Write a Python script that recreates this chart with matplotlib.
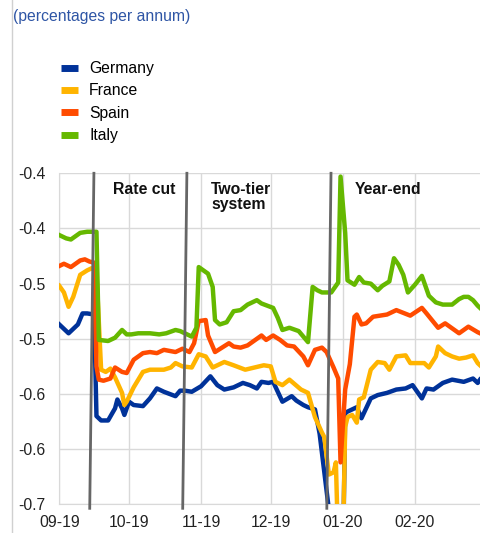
import pandas as pd
import matplotlib
matplotlib.use('Agg')
import matplotlib.pyplot as plt
import matplotlib.dates as mdates
from matplotlib.lines import Line2D

plt.rcParams['font.family'] = ['Liberation Sans', 'DejaVu Sans']

# Data (percentages per annum)
germany_dates = ['2019-09-01', '2019-09-05', '2019-09-09', '2019-09-11', '2019-09-13', '2019-09-16',
                 '2019-09-17', '2019-09-19', '2019-09-22', '2019-09-25', '2019-09-26', '2019-09-28',
                 '2019-09-29', '2019-10-01', '2019-10-03', '2019-10-07', '2019-10-10', '2019-10-13',
                 '2019-10-16', '2019-10-21', '2019-10-23', '2019-10-25', '2019-10-28', '2019-11-01',
                 '2019-11-05', '2019-11-08', '2019-11-11', '2019-11-15', '2019-11-19', '2019-11-22',
                 '2019-11-25', '2019-11-27', '2019-11-30', '2019-12-02', '2019-12-04', '2019-12-06',
                 '2019-12-10', '2019-12-12', '2019-12-15', '2019-12-17', '2019-12-20', '2019-12-22',
                 '2019-12-26', '2019-12-28', '2019-12-31', '2020-01-01', '2020-01-02', '2020-01-03',
                 '2020-01-07', '2020-01-09', '2020-01-13', '2020-01-16', '2020-01-20', '2020-01-24',
                 '2020-01-28', '2020-01-31', '2020-02-04', '2020-02-06', '2020-02-09', '2020-02-13',
                 '2020-02-17', '2020-02-22', '2020-02-26', '2020-02-28', '2020-02-29']
germany = [-0.537, -0.545, -0.537, -0.527, -0.527, -0.528,
           -0.620, -0.624, -0.624, -0.613, -0.605, -0.613,
           -0.619, -0.607, -0.610, -0.611, -0.604, -0.595,
           -0.598, -0.602, -0.597, -0.597, -0.598, -0.593,
           -0.584, -0.592, -0.596, -0.594, -0.590, -0.592,
           -0.595, -0.589, -0.590, -0.589, -0.598, -0.607,
           -0.602, -0.606, -0.610, -0.612, -0.614, -0.636,
           -0.705, -0.760, -0.760, -0.760, -0.617, -0.616,
           -0.612, -0.622, -0.604, -0.601, -0.599, -0.596,
           -0.595, -0.592, -0.604, -0.595, -0.596, -0.590,
           -0.587, -0.589, -0.586, -0.590, -0.587]

france_dates = ['2019-09-01', '2019-09-03', '2019-09-05', '2019-09-07', '2019-09-10', '2019-09-13',
                '2019-09-15', '2019-09-17', '2019-09-19', '2019-09-21', '2019-09-23', '2019-09-25',
                '2019-09-28', '2019-09-29', '2019-09-30', '2019-10-03', '2019-10-07', '2019-10-10',
                '2019-10-13', '2019-10-16', '2019-10-19', '2019-10-21', '2019-10-24', '2019-10-28',
                '2019-10-31', '2019-11-03', '2019-11-06', '2019-11-11', '2019-11-15', '2019-11-20',
                '2019-11-24', '2019-11-28', '2019-12-01', '2019-12-03', '2019-12-06', '2019-12-09',
                '2019-12-14', '2019-12-17', '2019-12-20', '2019-12-23', '2019-12-24', '2019-12-26',
                '2019-12-28', '2019-12-29', '2019-12-30', '2019-12-31', '2020-01-01', '2020-01-02',
                '2020-01-03', '2020-01-05', '2020-01-07', '2020-01-08', '2020-01-10', '2020-01-13',
                '2020-01-16', '2020-01-19', '2020-01-21', '2020-01-24', '2020-01-28', '2020-01-30',
                '2020-02-02', '2020-02-05', '2020-02-07', '2020-02-10', '2020-02-11', '2020-02-14',
                '2020-02-17', '2020-02-20', '2020-02-23', '2020-02-26', '2020-02-28', '2020-02-29']
france = [-0.502, -0.508, -0.521, -0.512, -0.492, -0.488,
          -0.486, -0.490, -0.578, -0.580, -0.577, -0.585,
          -0.599, -0.610, -0.607, -0.594, -0.580, -0.578,
          -0.578, -0.578, -0.576, -0.572, -0.575, -0.576,
          -0.564, -0.566, -0.576, -0.571, -0.574, -0.578,
          -0.576, -0.574, -0.575, -0.589, -0.592, -0.587,
          -0.596, -0.599, -0.621, -0.635, -0.639, -0.673,
          -0.671, -0.662, -0.740, -0.740, -0.740, -0.630,
          -0.621, -0.619, -0.626, -0.605, -0.603, -0.578,
          -0.571, -0.572, -0.578, -0.566, -0.565, -0.572,
          -0.572, -0.572, -0.576, -0.566, -0.557, -0.563,
          -0.566, -0.568, -0.567, -0.565, -0.572, -0.574]

spain_dates = ['2019-09-01', '2019-09-03', '2019-09-06', '2019-09-10', '2019-09-12', '2019-09-14',
               '2019-09-16', '2019-09-17', '2019-09-18', '2019-09-20', '2019-09-23', '2019-09-25',
               '2019-09-28', '2019-09-30', '2019-10-03', '2019-10-07', '2019-10-10', '2019-10-13',
               '2019-10-16', '2019-10-21', '2019-10-24', '2019-10-27', '2019-10-29', '2019-10-31',
               '2019-11-03', '2019-11-04', '2019-11-07', '2019-11-10', '2019-11-13', '2019-11-15',
               '2019-11-18', '2019-11-21', '2019-11-23', '2019-11-27', '2019-11-29', '2019-12-02',
               '2019-12-05', '2019-12-08', '2019-12-11', '2019-12-15', '2019-12-17', '2019-12-20',
               '2019-12-23', '2019-12-25', '2019-12-28', '2019-12-30', '2019-12-31', '2020-01-02',
               '2020-01-04', '2020-01-06', '2020-01-07', '2020-01-09', '2020-01-11', '2020-01-14',
               '2020-01-20', '2020-01-24', '2020-01-30', '2020-02-04', '2020-02-06', '2020-02-11',
               '2020-02-14', '2020-02-20', '2020-02-24', '2020-02-28', '2020-02-29']
spain = [-0.484, -0.482, -0.485, -0.479, -0.478, -0.480,
         -0.481, -0.575, -0.587, -0.588, -0.586, -0.576,
         -0.580, -0.581, -0.569, -0.563, -0.562, -0.563,
         -0.560, -0.562, -0.559, -0.562, -0.554, -0.534,
         -0.533, -0.547, -0.562, -0.558, -0.554, -0.557,
         -0.558, -0.556, -0.553, -0.547, -0.551, -0.547,
         -0.551, -0.556, -0.557, -0.566, -0.574, -0.560,
         -0.558, -0.562, -0.576, -0.586, -0.662, -0.596,
         -0.573, -0.530, -0.528, -0.537, -0.536, -0.530,
         -0.528, -0.524, -0.529, -0.522, -0.527, -0.540,
         -0.536, -0.545, -0.539, -0.544, -0.545]

italy_dates = ['2019-09-01', '2019-09-04', '2019-09-06', '2019-09-10', '2019-09-13', '2019-09-17',
               '2019-09-18', '2019-09-22', '2019-09-25', '2019-09-28', '2019-09-30', '2019-10-02',
               '2019-10-05', '2019-10-10', '2019-10-14', '2019-10-17', '2019-10-21', '2019-10-23',
               '2019-10-25', '2019-10-28', '2019-10-30', '2019-10-31', '2019-11-02', '2019-11-04',
               '2019-11-06', '2019-11-07', '2019-11-09', '2019-11-12', '2019-11-15', '2019-11-18',
               '2019-11-21', '2019-11-25', '2019-11-27', '2019-12-02', '2019-12-04', '2019-12-06',
               '2019-12-09', '2019-12-13', '2019-12-17', '2019-12-19', '2019-12-21', '2019-12-23',
               '2019-12-25', '2019-12-27', '2019-12-30', '2019-12-31', '2020-01-02', '2020-01-03',
               '2020-01-06', '2020-01-08', '2020-01-10', '2020-01-13', '2020-01-16', '2020-01-18',
               '2020-01-21', '2020-01-23', '2020-01-25', '2020-01-27', '2020-01-29', '2020-02-01',
               '2020-02-04', '2020-02-07', '2020-02-10', '2020-02-13', '2020-02-17', '2020-02-20',
               '2020-02-22', '2020-02-24', '2020-02-26', '2020-02-28', '2020-02-29']
italy = [-0.456, -0.459, -0.460, -0.454, -0.453, -0.453,
         -0.551, -0.552, -0.549, -0.542, -0.546, -0.546,
         -0.545, -0.545, -0.546, -0.545, -0.542, -0.543,
         -0.545, -0.548, -0.540, -0.485, -0.488, -0.491,
         -0.503, -0.533, -0.537, -0.535, -0.525, -0.524,
         -0.519, -0.515, -0.518, -0.522, -0.531, -0.542,
         -0.540, -0.543, -0.553, -0.503, -0.506, -0.508,
         -0.508, -0.508, -0.499, -0.403, -0.454, -0.497,
         -0.501, -0.494, -0.499, -0.500, -0.506, -0.502,
         -0.498, -0.477, -0.483, -0.492, -0.508, -0.501,
         -0.493, -0.511, -0.517, -0.519, -0.519, -0.514,
         -0.512, -0.512, -0.515, -0.520, -0.522]

series_names = ['Germany', 'France', 'Spain', 'Italy']
series_colors = ['#003299', '#FFB400', '#FF4B00', '#65B800']

event_dates = ['2019-09-15', '2019-10-25', '2019-12-26']
event_labels = ['Rate cut', 'Two-tier\nsystem', 'Year-end']

y_ticks = [-0.70, -0.65, -0.60, -0.55, -0.50, -0.45, -0.40]
y_tick_labels = ['-0.7', '-0.6', '-0.6', '-0.5', '-0.5', '-0.4', '-0.4']

fs = 11.3

fig = plt.figure(figsize=(4.8, 5.33), dpi=100)
ax = fig.add_axes([0.1235, 0.0538, 0.8765, 0.6211])

all_dates = [germany_dates, france_dates, spain_dates, italy_dates]
all_vals = [germany, france, spain, italy]
for d, v, c, n in zip(all_dates, all_vals, series_colors, series_names):
    ax.plot(pd.to_datetime(d), v, color=c, lw=3.2, label=n, zorder=3)

ax.set_xlim(pd.Timestamp('2019-09-01'), pd.Timestamp('2020-02-29'))
ax.set_ylim(-0.70, -0.40)
ax.set_yticks(y_ticks)
ax.set_yticklabels(y_tick_labels)
ax.xaxis.set_major_locator(mdates.MonthLocator())
ax.xaxis.set_major_formatter(mdates.DateFormatter('%m-%y'))

ax.grid(color='#d9d9d9', lw=1)
ax.set_axisbelow(True)
for s in ['top', 'right']:
    ax.spines[s].set_visible(False)
for s in ['left', 'bottom']:
    ax.spines[s].set_color('#d9d9d9')
ax.tick_params(length=0, labelsize=fs, colors='#222222')
ax.tick_params(axis='y', pad=10)
ax.tick_params(axis='x', pad=8)

# event markers (slightly slanted as in the original)
slant = 0.9
label_x = [0.128, 0.361, 0.703]
for d, lab, lx in zip(event_dates, event_labels, label_x):
    x = mdates.date2num(pd.Timestamp(d))
    ax.plot([x - slant, x + slant], [-0.7036, -0.40], color='#666666', lw=2,
            clip_on=False, zorder=5)
    ax.text(lx, 0.975, lab, transform=ax.transAxes, fontsize=fs,
            fontweight='bold', va='top', ha='left', color='#111111', linespacing=1.0)

handles = [Line2D([], [], color=c, lw=5, solid_capstyle='butt') for c in series_colors]
fig.legend(handles, series_names, loc='upper left', bbox_to_anchor=(61 / 480, 1 - 61 / 533),
           frameon=False, fontsize=fs, handlelength=1.1, handletextpad=0.7,
           labelspacing=0.47, borderpad=0, borderaxespad=0)

fig.text(13 / 480, 1 - 16 / 533, '(percentages per annum)', color='#2e55a5',
         fontsize=fs, va='center', ha='left')
fig.add_artist(Line2D([12 / 480, 12 / 480], [0, 1], color='#d0d0d0', lw=1,
                      transform=fig.transFigure))

fig.savefig('out.png', dpi=100)
